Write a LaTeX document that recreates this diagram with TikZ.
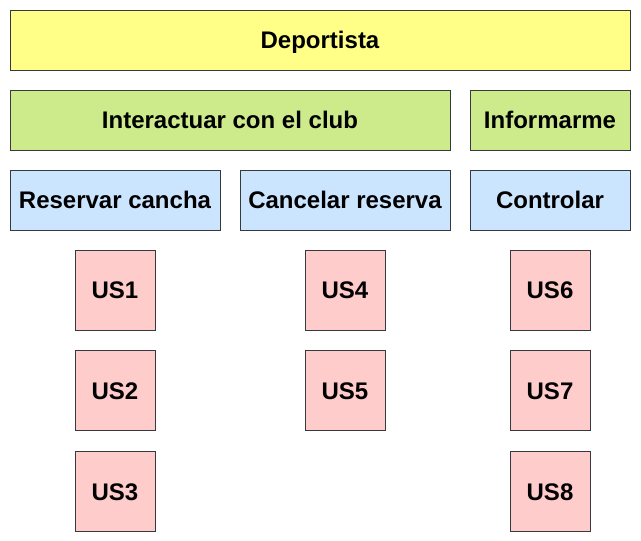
\documentclass[tikz,border=0pt]{standalone}
\usepackage{fontspec}
\setmainfont{Liberation Sans}
\usetikzlibrary{positioning}
\definecolor{DepYellow}{HTML}{FFFF88}
\definecolor{DepGreen}{HTML}{CDEB8B}
\definecolor{DepBlue}{HTML}{CCE5FF}
\definecolor{DepPink}{HTML}{FFCCCC}
\definecolor{DepLine}{HTML}{36393D}

\begin{document}
\begin{tikzpicture}[
  x=0.75pt, y=-0.75pt,
  node distance=15pt and 15pt,
  box/.style={draw=DepLine, fill=#1, line width=0.6pt, inner sep=0pt, minimum height=45pt, text height=13pt, text depth=0pt, align=center, font=\fontsize{18}{22}\selectfont\bfseries},
  story/.style={box=DepPink, minimum width=60pt, minimum height=60pt}
]
\useasboundingbox (0,0) rectangle (641,541);

\node[box=DepYellow, minimum width=465pt] (deportista) at (320,40) {Deportista};

\node[box=DepGreen, minimum width=330pt] (interactuar) at (230,120) {Interactuar con el club};
\node[box=DepGreen, minimum width=120pt] (informarme) at (550,120) {Informarme};

\node[box=DepBlue, minimum width=157.5pt] (reservar) at (115,200) {Reservar cancha};
\node[box=DepBlue, minimum width=157.5pt] (cancelar) at (345,200) {Cancelar reserva};
\node[box=DepBlue, minimum width=120pt] (controlar) at (550,200) {Controlar};

\node[story] (us1) at (115,290) {US1};
\node[story, below=of us1] (us2) {US2};
\node[story, below=of us2] (us3) {US3};

\node[story] (us4) at (345,290) {US4};
\node[story, below=of us4] (us5) {US5};

\node[story] (us6) at (550,290) {US6};
\node[story, below=of us6] (us7) {US7};
\node[story, below=of us7] (us8) {US8};
\end{tikzpicture}
\end{document}
